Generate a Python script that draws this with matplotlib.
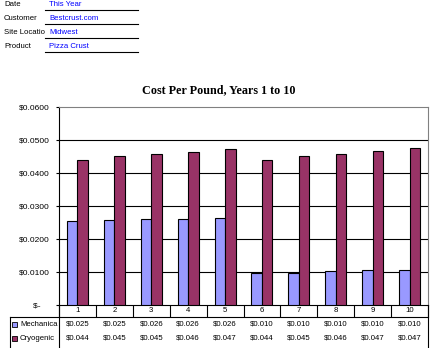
import numpy
import matplotlib
matplotlib.use("Agg")
import matplotlib.pyplot as plot
from matplotlib.lines import Line2D
from matplotlib.patches import Rectangle
from matplotlib.ticker import FuncFormatter
from matplotlib import transforms

years = ["1", "2", "3", "4", "5", "6", "7", "8", "9", "10"]
mechanical = [0.0254, 0.0257, 0.0260, 0.0260, 0.0263, 0.0098, 0.0098, 0.0102, 0.0105, 0.0105]
cryogenic = [0.0440, 0.0450, 0.0458, 0.0464, 0.0473, 0.0440, 0.0450, 0.0458, 0.0467, 0.0476]
mech_labels = ["$0.025", "$0.025", "$0.026", "$0.026", "$0.026",
               "$0.010", "$0.010", "$0.010", "$0.010", "$0.010"]
cryo_labels = ["$0.044", "$0.045", "$0.045", "$0.046", "$0.047",
               "$0.044", "$0.045", "$0.046", "$0.047", "$0.047"]
series_names = ["Mechanica", "Cryogenic"]

header_keys = ["Date", "Customer", "Site Locatio", "Product"]
header_values = ["This Year", "Bestcrust.com", "Midwest", "Pizza Crust"]

W, H = 433, 348
MECH_COLOR = "#9999FF"
CRYO_COLOR = "#993366"
SANS = "Liberation Sans"


def fx(x):
    return x / W


def fy(y):
    return 1 - y / H


fig = plot.figure(figsize=(W / 100, H / 100), dpi=100)

# header block in the top-left corner
for i, (key, val) in enumerate(zip(header_keys, header_values)):
    y = 5 + i * 14
    fig.text(fx(4), fy(y), key, fontsize=5.6, family=SANS, va="center", ha="left")
    fig.text(fx(49), fy(y), val, fontsize=5.6, family=SANS, va="center", ha="left",
             color="#0000FF")
    fig.add_artist(Line2D([fx(45), fx(138)], [fy(y + 4.5), fy(y + 4.5)],
                          color="black", lw=0.8, transform=fig.transFigure))

fig.text(fx(219), fy(90), "Cost Per Pound, Years 1 to 10", fontsize=8.7,
         family="Liberation Serif", weight="bold", ha="center", va="center")

left, right, top, bottom = 59, 428, 107, 305
ax = fig.add_axes([fx(left), fy(bottom), fx(right - left), (bottom - top) / H])

x = numpy.arange(1, len(years) + 1)
w = 0.285
ax.bar(x - w / 2, mechanical, width=w, color=MECH_COLOR, edgecolor="black", lw=0.8, zorder=3)
ax.bar(x + w / 2, cryogenic, width=w, color=CRYO_COLOR, edgecolor="black", lw=0.8, zorder=3)

ax.set_xlim(0.5, len(years) + 0.5)
ax.set_ylim(0, 0.06)
ax.hlines([0.01, 0.02, 0.03, 0.04, 0.05], 0.5, len(years) + 0.5, color="black", lw=0.8, zorder=1)

ax.set_yticks([0, 0.01, 0.02, 0.03, 0.04, 0.05, 0.06])
ax.yaxis.set_major_formatter(FuncFormatter(lambda v, p: "$-    " if v == 0 else f"${v:.4f}"))
ax.tick_params(axis="y", direction="out", length=2.2, width=0.8, pad=4.3, labelsize=6)
for lab in ax.get_yticklabels():
    lab.set_family(SANS)

ax.set_xticks(numpy.arange(0.5, len(years) + 1, 1.0))
ax.set_xticklabels([])
ax.tick_params(axis="x", direction="out", length=8.6, width=0.8)

for side in ["top", "right"]:
    ax.spines[side].set_color("#808080")
    ax.spines[side].set_linewidth(0.8)
for side in ["left", "bottom"]:
    ax.spines[side].set_color("black")
    ax.spines[side].set_linewidth(0.8)

# data table under the plot
blend = transforms.blended_transform_factory(ax.transData, fig.transFigure)
for xi, yr, m, c in zip(x, years, mech_labels, cryo_labels):
    fig.text(xi, fy(311), yr, transform=blend, fontsize=5.6, family=SANS, ha="center", va="center")
    fig.text(xi, fy(324), m, transform=blend, fontsize=5.6, family=SANS, ha="center", va="center")
    fig.text(xi, fy(338), c, transform=blend, fontsize=5.6, family=SANS, ha="center", va="center")

lines = [
    ([10, right], [317, 317]),
    ([10, 10], [317, 348]),
    ([left, left], [305, 348]),
    ([right, right], [305, 348]),
]
for xs, ys in lines:
    fig.add_artist(Line2D([fx(v) for v in xs], [fy(v) for v in ys], color="black", lw=0.8,
                          transform=fig.transFigure))

for i, (name, color) in enumerate(zip(series_names, [MECH_COLOR, CRYO_COLOR])):
    y = 324 + i * 14
    fig.add_artist(Rectangle((fx(12), fy(y + 2.5)), fx(5), 5 / H, facecolor=color,
                             edgecolor="black", lw=0.6, transform=fig.transFigure))
    fig.text(fx(20), fy(y), name, fontsize=5.6, family=SANS, ha="left", va="center")

plot.savefig("out.png", dpi=100)
